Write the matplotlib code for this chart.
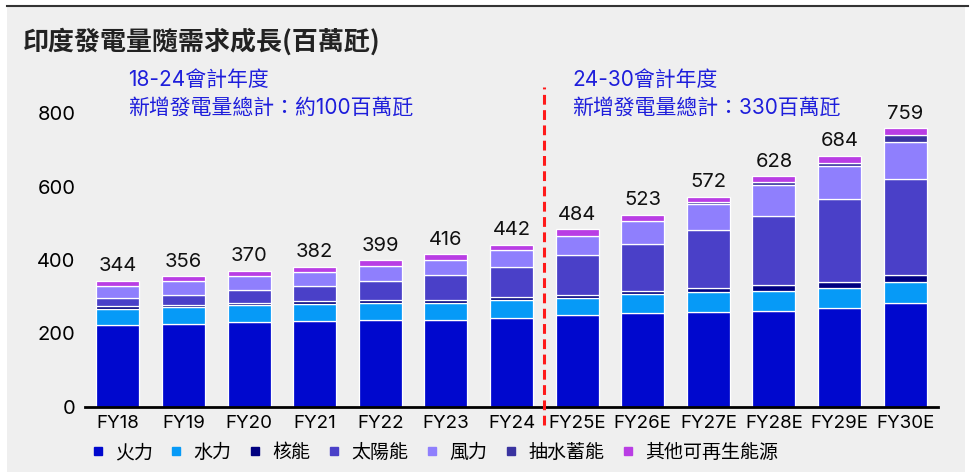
import matplotlib
matplotlib.use("Agg")
import matplotlib.pyplot as plt
from matplotlib.lines import Line2D
from matplotlib.patches import Rectangle
import numpy as np

plt.rcParams['font.family'] = ['Inter', 'Noto Sans CJK TC', 'DejaVu Sans']

# ---------------- data ----------------
categories = ['FY18', 'FY19', 'FY20', 'FY21', 'FY22', 'FY23', 'FY24',
              'FY25E', 'FY26E', 'FY27E', 'FY28E', 'FY29E', 'FY30E']
thermal = [222, 226, 231, 235, 236, 237, 243, 249, 257, 259, 262, 270, 284]
hydro   = [45, 45, 46, 46, 47, 47, 47, 48, 50, 53, 55, 55, 57]
nuclear = [7, 7, 7, 7, 7, 7, 8, 9, 10, 12, 14, 15, 18]
solar   = [22, 28, 35, 40, 54, 67, 82, 107, 127, 157, 190, 225, 262]
wind    = [34, 36, 38, 39, 40, 43, 46, 53, 61, 72, 83, 92, 100]
pumped  = [0, 0, 0, 0, 0, 0, 0, 0, 0, 5, 7, 8, 20]
others  = [14, 14, 13, 15, 15, 15, 16, 18, 18, 14, 17, 19, 18]
totals  = [344, 356, 370, 382, 399, 416, 442, 484, 523, 572, 628, 684, 759]

series_names = ['火力', '水力', '核能', '太陽能', '風力', '抽水蓄能', '其他可再生能源']
series_values = [thermal, hydro, nuclear, solar, wind, pumped, others]
series_colors = ['#0008CE', '#069AF7', '#000080', '#4A40C8', '#8F7FFD', '#3A33A0', '#B93DE4']

title = '印度發電量隨需求成長(百萬瓩)'
note_left = ['18-24會計年度', '新增發電量總計：約100百萬瓩']
note_right = ['24-30會計年度', '新增發電量總計：330百萬瓩']
last_actual = 'FY24'

# ---------------- figure ----------------
W, H = 972, 476
fig = plt.figure(figsize=(W / 100, H / 100), dpi=100)
fig.patch.set_facecolor('white')
bg = Rectangle((7 / W, 4 / H), (965 - 7) / W, (469 - 4) / H,
               transform=fig.transFigure, facecolor='#EFEFEF', edgecolor='none', zorder=-10)
fig.add_artist(bg)
fig.add_artist(Line2D([7 / W, 968 / W], [1 - 6 / H, 1 - 6 / H], transform=fig.transFigure,
                      color='#333333', lw=1.5))

ax = fig.add_axes([85 / W, (H - 407) / H, (938 - 85) / W, 330.75 / H])
ax.patch.set_alpha(0)

x = np.arange(len(categories))
bottom = np.zeros(len(categories))
for name, vals, col in zip(series_names, series_values, series_colors):
    vals = np.array(vals, dtype=float)
    ecs = ['white' if v > 0 else 'none' for v in vals]
    ax.bar(x, vals, bottom=bottom, width=0.655, color=col, edgecolor=ecs,
           linewidth=0.9, label=name, zorder=2)
    bottom += vals

for xi, t in zip(x, totals):
    ax.annotate(f'{t}', (xi, t), xytext=(0, 4), textcoords='offset points',
                ha='center', va='bottom', fontsize=14.5, color='#111111')

ax.set_xlim(-0.5, len(categories) - 0.5)
ax.set_ylim(0, 900)
ax.set_yticks([0, 200, 400, 600, 800])
ax.set_xticks(x)
ax.set_xticklabels(categories, fontsize=13.5)
ax.tick_params(axis='y', length=0, pad=7, labelsize=14.5)
ax.tick_params(axis='x', length=0, pad=6)
for s in ['top', 'right', 'left']:
    ax.spines[s].set_visible(False)
ax.spines['bottom'].set_linewidth(2)
ax.spines['bottom'].set_color('black')
ax.spines['bottom'].set_zorder(3)

# divider between actual and forecast
xd = categories.index(last_actual) + 0.5
ax.plot([xd, xd], [-49, 871], color='#FF1A1A', lw=2.2, dashes=(3.2, 1.8),
        clip_on=False, zorder=4)

# annotations
blue = '#1E1EDB'
fs_note = 15
fig.text(128 / W, 1 - 80 / H, note_left[0], color=blue, fontsize=fs_note, va='center', ha='left')
fig.text(128 / W, 1 - 108 / H, note_left[1], color=blue, fontsize=fs_note, va='center', ha='left')
fig.text(572 / W, 1 - 80 / H, note_right[0], color=blue, fontsize=fs_note, va='center', ha='left')
fig.text(572 / W, 1 - 108 / H, note_right[1], color=blue, fontsize=fs_note, va='center', ha='left')

fig.text(23 / W, 1 - 42 / H, title, fontsize=18.7, fontweight='bold', color='#222222',
         va='center', ha='left', family=['Noto Sans CJK TC', 'DejaVu Sans'])

handles = [Line2D([], [], marker='s', linestyle='none', markersize=5.5,
                  markerfacecolor=c, markeredgecolor=c) for c in series_colors]
fig.legend(handles, series_names, loc='center left', bbox_to_anchor=(88 / W, 1 - 453 / H),
           ncol=7, frameon=False, fontsize=13.7, handlelength=1.0, handletextpad=0.4,
           columnspacing=0.75, borderpad=0, borderaxespad=0)

fig.savefig('out.png', dpi=100, facecolor=fig.get_facecolor())
